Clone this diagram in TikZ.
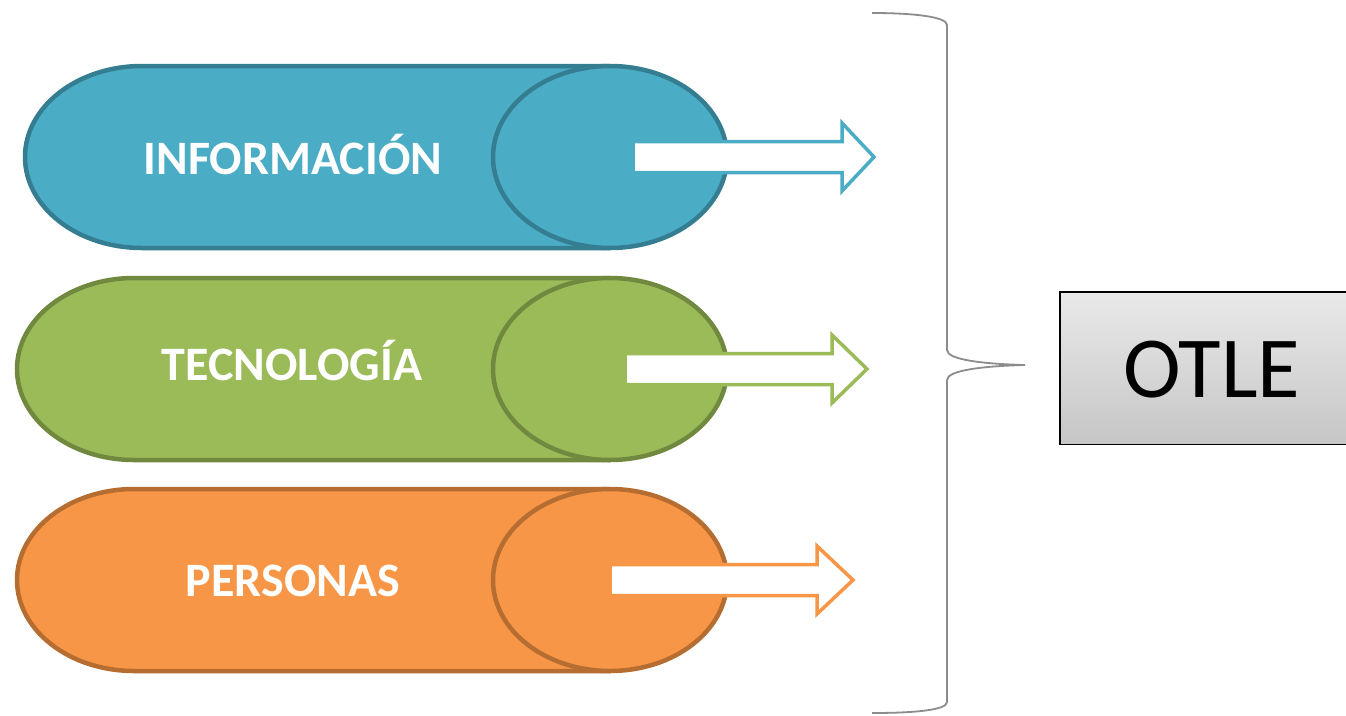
\documentclass[tikz,border=0pt]{standalone}
\usepackage{fontspec}
\setmainfont{Carlito}
\usetikzlibrary{calc}
\definecolor{bluef}{HTML}{4BACC6}
\definecolor{blued}{HTML}{357D91}
\definecolor{greenf}{HTML}{9BBB59}
\definecolor{greend}{HTML}{71893F}
\definecolor{orangef}{HTML}{F79646}
\definecolor{oranged}{HTML}{B66D31}
\definecolor{bracegray}{HTML}{8C8C8C}
\tikzset{
  lbl/.style={text=white, font=\fontsize{48}{52}\selectfont\bfseries, inner sep=0pt, anchor=base},
  cylline/.style={line width=4.5pt},
  blockarrow/.style={line width=3.5pt, fill=white, line join=miter},
}
\newcommand\mycyl[5]{% left center x, center y, fill, border, right center x
  \fill[#3] (#5,#2-91) -- (#1,#2-91) arc[start angle=270, end angle=90, x radius=117, y radius=91] -- (#5,#2+91) -- cycle;
  \draw[#4, cylline] (#5,#2-91) -- (#1,#2-91) arc[start angle=270, end angle=90, x radius=117, y radius=91] -- (#5,#2+91);
  \filldraw[fill=#3, draw=#4, cylline] (#5,#2) ellipse [x radius=117, y radius=91];
}
\newcommand\myarrow[5]{% x0, head base, tip, cy, color
  \draw[blockarrow, draw=#5] (#1,#4-15.5) -- (#2,#4-15.5) -- (#2,#4-34) -- (#3,#4) -- (#2,#4+34) -- (#2,#4+15.5) -- (#1,#4+15.5) -- cycle;
}
\begin{document}
\begin{tikzpicture}[x=1pt,y=-1pt]
\useasboundingbox (0,0) rectangle (1346,715);
% cylinders
\mycyl{142}{157}{bluef}{blued}{610}
\mycyl{134}{369}{greenf}{greend}{610}
\mycyl{134}{580}{orangef}{oranged}{610}
% labels
\node[lbl] (info) at (293,174) {INFORMACIÓN};
\node[lbl] (tec) at (292,380) {TECNOLOGÍA};
\node[lbl] (pers) at (293,596) {PERSONAS};
% block arrows
\myarrow{633}{842}{874}{157}{bluef}
\myarrow{625}{832}{867}{369}{greenf}
\myarrow{610}{817}{853}{580}{orangef}
% brace
\coordinate (btop) at (872,13);
\coordinate (bbot) at (872,713);
\coordinate (bmid) at (1025,365);
\draw[bracegray, line width=1.8pt]
  (btop) .. controls (915,13) and (947,17) .. (947,25)
  -- (947,350) .. controls (947,360) and (985,364) .. (bmid)
  .. controls (985,366) and (947,370) .. (947,380)
  -- (947,702) .. controls (947,710) and (915,713) .. (bbot);
% OTLE box
\node[minimum width=286pt, minimum height=152pt, inner sep=0pt, top color=gray!17, bottom color=gray!45, anchor=north west] (otlebox) at (1060,292) {};
\draw[black, line width=1.6pt] (otlebox.north east) -- (otlebox.north west) -- (otlebox.south west) -- (otlebox.south east);
\node[font=\fontsize{87}{90}\selectfont, inner sep=0pt, anchor=base] (otle) at (1212,397) {OTLE};
\end{tikzpicture}
\end{document}
